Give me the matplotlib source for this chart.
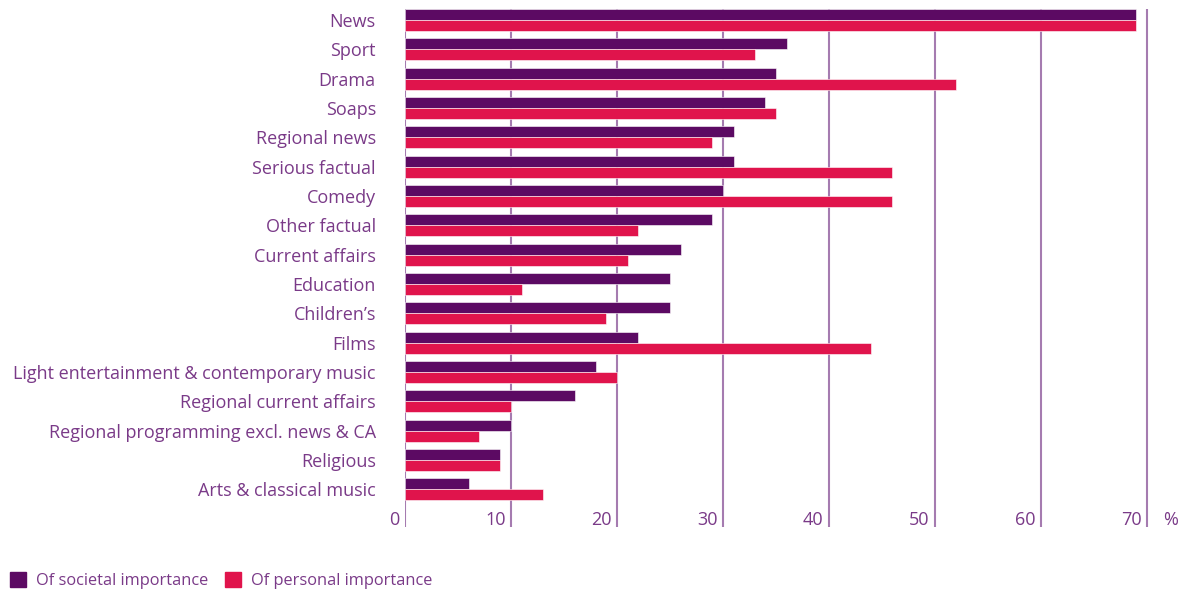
import matplotlib.pyplot as plt
import numpy as np
from matplotlib.patches import Patch
from matplotlib.transforms import blended_transform_factory

categories = [
    'News', 'Sport', 'Drama', 'Soaps', 'Regional news', 'Serious factual',
    'Comedy', 'Other factual', 'Current affairs', 'Education', 'Children\u2019s',
    'Films', 'Light entertainment & contemporary music',
    'Regional current affairs', 'Regional programming excl. news & CA',
    'Religious', 'Arts & classical music',
]
societal = [69, 36, 35, 34, 31, 31, 30, 29, 26, 25, 25, 22, 18, 16, 10, 9, 6]
personal = [69, 33, 52, 35, 29, 46, 46, 22, 21, 11, 19, 44, 20, 10, 7, 9, 13]
xticks = [0, 10, 20, 30, 40, 50, 60, 70]

PURPLE = '#5c0a63'
PINK = '#e0144c'
TEXT = '#7a3a88'
GRID = '#a57bb0'

plt.rcParams['font.family'] = ['Open Sans', 'DejaVu Sans']

fig = plt.figure(figsize=(11.89, 5.95), dpi=100)
ax = fig.add_axes([405 / 1189, 1 - 527 / 595, (1150 - 405) / 1189, (527 - 9) / 595])

y = np.arange(len(categories))
h = 0.375
ax.barh(y - h / 2, societal, height=h, color=PURPLE, edgecolor='white', linewidth=0.4, zorder=3)
ax.barh(y + h / 2, personal, height=h, color=PINK, edgecolor='white', linewidth=0.4, zorder=3)

ax.set_ylim(17.29, -0.375)
ax.set_xlim(0, 70.3)

for t in xticks:
    ax.axvline(t, color=GRID, linewidth=1.5, zorder=1)

ax.set_yticks(y)
ax.set_yticklabels(categories, fontsize=13.0, color=TEXT)
ax.tick_params(axis='y', length=0, pad=21)
ax.set_xticks([])
for s in ax.spines.values():
    s.set_visible(False)

tr = blended_transform_factory(ax.transData, ax.transAxes)
for t in xticks:
    ax.text(t - 0.5, 0.004, str(t), transform=tr, ha='right', va='baseline',
            fontsize=13, color=TEXT)
ax.text(71.5, 0.004, '%', transform=tr, ha='left', va='baseline', fontsize=13, color=TEXT)

handles = [Patch(color=PURPLE), Patch(color=PINK)]
fig.legend(handles, ['Of societal importance', 'Of personal importance'],
           loc='lower left', bbox_to_anchor=(-0.004, -0.015), ncol=2, frameon=False,
           fontsize=11.8, labelcolor=TEXT, handlelength=1.0, handleheight=1.0,
           handletextpad=0.6, columnspacing=1.0)

fig.savefig('out.png', dpi=100)
